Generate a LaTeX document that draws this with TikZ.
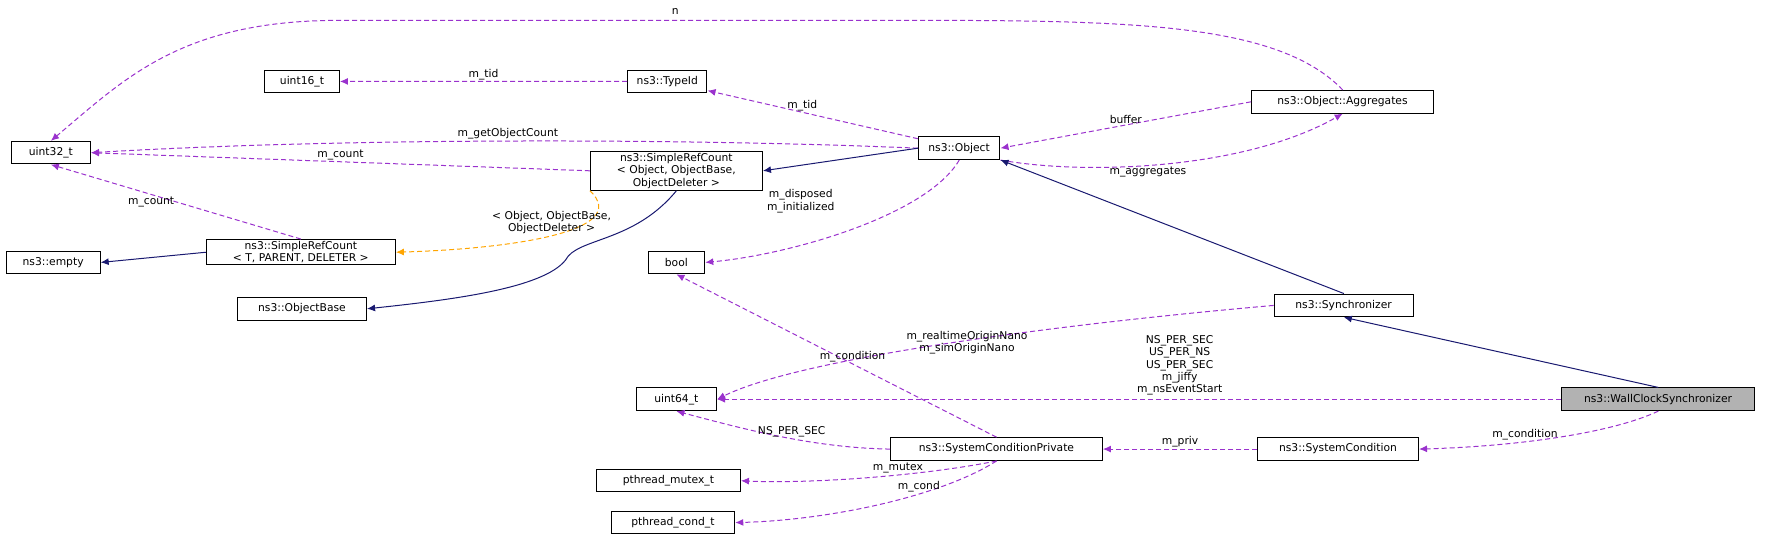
\documentclass[tikz,border=0pt]{standalone}
\usepackage{fontspec}
\setmainfont{DejaVu Sans}
\usetikzlibrary{arrows.meta}
\definecolor{usecol}{HTML}{9A32CD}
\definecolor{inhcol}{HTML}{191970}
\definecolor{tplcol}{HTML}{FFA500}
\tikzset{
  cls/.style={draw=black,fill=white,line width=1pt,font=\fontsize{9.5}{11}\selectfont,inner sep=2.5pt,minimum height=20pt,align=center},
  uses/.style={usecol,line width=1pt,dash pattern=on 5pt off 3pt,-{Latex[length=8pt,width=7pt]}},
  inh/.style={inhcol,line width=1pt,-{Latex[length=8pt,width=7pt]}},
  tpl/.style={tplcol,line width=1pt,dash pattern=on 5pt off 3pt,-{Latex[length=8pt,width=7pt]}},
  lbl/.style={black,font=\fontsize{9.5}{11}\selectfont,align=center,inner sep=1pt}
}
\begin{document}
\begin{tikzpicture}[x=1pt,y=-1pt]
			\begin{scope}[scale=1.131,transform shape]
				\node[cls,minimum width=70pt] (u32) at (45,135) {uint32\_t};
				\node[cls,minimum width=66pt] (u16) at (267,72) {uint16\_t};
				\node[cls,minimum width=70pt] (tid) at (590,72) {ns3::TypeId};
				\node[cls,minimum width=161pt] (agg) at (1187,90) {ns3::Object::Aggregates};
				\node[cls,minimum width=72pt] (obj) at (848,131) {ns3::Object};
				\node[cls,minimum width=152pt,inner sep=1.5pt] (src) at (598,151) {ns3::SimpleRefCount\\{}< Object, ObjectBase,\\ObjectDeleter >};
				\node[cls,minimum width=167pt,inner sep=1.5pt] (srct) at (266,223) {ns3::SimpleRefCount\\{}< T, PARENT, DELETER >};
				\node[cls,minimum width=83pt] (emp) at (47,232) {ns3::empty};
				\node[cls,minimum width=114pt] (ob) at (267,273) {ns3::ObjectBase};
				\node[cls,minimum width=50pt] (bool) at (598,232) {bool};
				\node[cls,minimum width=123pt] (sync) at (1188,270) {ns3::Synchronizer};
				\node[cls,minimum width=71pt] (u64) at (598,353) {uint64\_t};
				\node[cls,minimum width=171pt,fill=black!30] (wcs) at (1466,353) {ns3::WallClockSynchronizer};
				\node[cls,minimum width=187pt] (scp) at (881,397) {ns3::SystemConditionPrivate};
				\node[cls,minimum width=142pt] (sc) at (1183,397) {ns3::SystemCondition};
				\node[cls,minimum width=127pt] (mtx) at (591,425) {pthread\_mutex\_t};
				\node[cls,minimum width=109pt] (cnd) at (595,462) {pthread\_cond\_t};
				
				% usage relations
				\draw[uses] (agg.north) .. controls (1130,20) and (1000,18) .. (800,18) -- (300,18) .. controls (160,18) and (110,70) .. (u32.north);
				\node[lbl] (nlab) at (597,10) {n};
				\draw[uses] (tid) -- node[lbl,above] {m\_tid} (u16);
				\draw[uses] (obj) -- node[lbl,above,pos=0.55] {m\_tid} (tid);
				\draw[uses] (obj.west) .. controls (600,122) and (300,122) .. node[lbl,above] {m\_getObjectCount} (u32.east);
				\draw[uses] (agg.west) -- node[lbl,above] {buffer} (obj.east);
				\draw[uses] (obj.south east) .. controls (960,155) and (1100,150) .. node[lbl,below,pos=0.45] {m\_aggregates} (agg.south);
				\draw[uses] (src.west) -- node[lbl,above] {m\_count} (u32.east);
				\draw[uses] (srct.north) -- node[lbl,left,pos=0.5] {m\_count} (u32.south);
				\draw[uses] (obj.south) .. controls (820,190) and (700,225) .. (bool.east);
				\node[lbl] (dlab) at (708,178) {m\_disposed\\m\_initialized};
				\draw[uses] (sync.west) .. controls (900,290) and (700,320) .. (u64.east);
				\node[lbl] (rlab) at (855,303) {m\_realtimeOriginNano\\m\_simOriginNano};
				\draw[uses] (wcs.west) -- (u64.east);
				\node[lbl] (klab) at (1043,323) {NS\_PER\_SEC\\US\_PER\_NS\\US\_PER\_SEC\\m\_jiffy\\m\_nsEventStart};
				\draw[uses] (scp.west) .. controls (720,396) and (660,380) .. node[lbl,above,pos=0.45] {NS\_PER\_SEC} (u64.south);
				\draw[uses] (scp.north) -- node[lbl,above,pos=0.45] {m\_condition} (bool.south);
				\draw[uses] (sc.west) -- node[lbl,above] {m\_priv} (scp.east);
				\draw[uses] (wcs.south) .. controls (1420,385) and (1330,395) .. node[lbl,above,pos=0.6] {m\_condition} (sc.east);
				\draw[uses] (scp.south) .. controls (820,420) and (720,428) .. node[lbl,above,pos=0.4] {m\_mutex} (mtx.east);
				\draw[uses] (scp.south) .. controls (830,440) and (730,460) .. node[lbl,above,pos=0.35] {m\_cond} (cnd.east);
				
				% inheritance relations
				\draw[inh] (obj.west) -- (src.east);
				\draw[inh] (srct.west) -- (emp.east);
				\draw[inh] (src.south) .. controls (560,215) and (510,210) .. (500,230) .. controls (480,255) and (400,265) .. (ob.east);
				\draw[inh] (sync.north) -- (obj.south east);
				\draw[inh] (wcs.north) -- (sync.south);
				\draw[tpl] (src.south west) .. controls (560,205) and (450,220) .. node[lbl,above,pos=0.5] {< Object, ObjectBase,\\ObjectDeleter >} (srct.east);
			\end{scope}
				
				\pgfresetboundingbox
				\useasboundingbox (0,0) rectangle (1773,548);
\end{tikzpicture}
\end{document}
